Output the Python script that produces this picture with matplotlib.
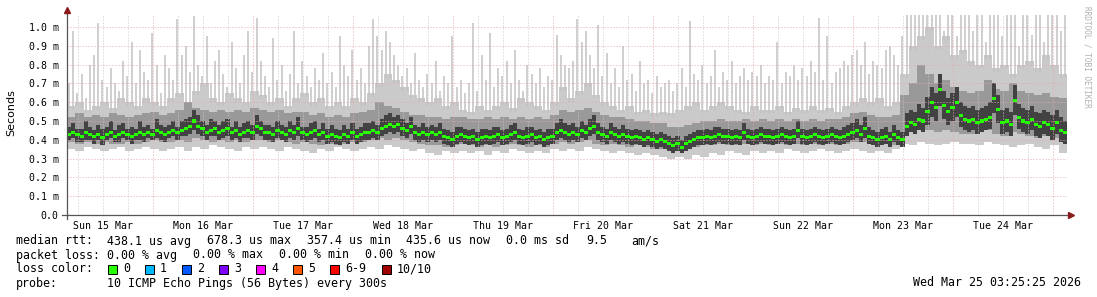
import numpy as np
import matplotlib
matplotlib.use("Agg")
import matplotlib.pyplot as plt

# ----- DATA (milliseconds) -----
# median rtt, one value per hour, starting Sun 15 Mar 03:25
med = [
    0.43, 0.44, 0.43, 0.42, 0.44, 0.43, 0.42, 0.43, 0.41, 0.43, 0.44, 0.42, 0.43, 0.44, 0.43, 0.42, 0.43, 0.44, 0.43, 0.44, 0.43, 0.45, 0.44, 0.43,
    0.44, 0.45, 0.44, 0.45, 0.46, 0.47, 0.50, 0.47, 0.46, 0.44, 0.45, 0.46, 0.44, 0.45, 0.46, 0.44, 0.45, 0.43, 0.44, 0.45, 0.44, 0.47, 0.46, 0.44,
    0.44, 0.43, 0.45, 0.44, 0.43, 0.45, 0.44, 0.46, 0.44, 0.43, 0.44, 0.45, 0.43, 0.44, 0.42, 0.43, 0.42, 0.41, 0.43, 0.42, 0.44, 0.42, 0.43, 0.44,
    0.44, 0.45, 0.44, 0.46, 0.47, 0.48, 0.47, 0.48, 0.46, 0.45, 0.47, 0.44, 0.43, 0.44, 0.43, 0.44, 0.43, 0.44, 0.42, 0.41, 0.40, 0.42, 0.43, 0.42,
    0.41, 0.42, 0.40, 0.41, 0.42, 0.41, 0.42, 0.43, 0.41, 0.42, 0.43, 0.44, 0.42, 0.41, 0.42, 0.43, 0.41, 0.42, 0.40, 0.41, 0.42, 0.44, 0.45, 0.44,
    0.43, 0.44, 0.43, 0.45, 0.44, 0.46, 0.47, 0.44, 0.43, 0.42, 0.44, 0.43, 0.42, 0.43, 0.42, 0.41, 0.42, 0.41, 0.40, 0.41, 0.40, 0.39, 0.40, 0.39,
    0.38, 0.37, 0.38, 0.36, 0.38, 0.39, 0.40, 0.41, 0.41, 0.42, 0.41, 0.42, 0.43, 0.42, 0.42, 0.41, 0.42, 0.41, 0.44, 0.42, 0.41, 0.42, 0.43, 0.42,
    0.42, 0.41, 0.42, 0.43, 0.42, 0.41, 0.42, 0.45, 0.42, 0.41, 0.42, 0.43, 0.42, 0.41, 0.42, 0.43, 0.42, 0.41, 0.42, 0.43, 0.44, 0.45, 0.43, 0.46,
    0.42, 0.41, 0.40, 0.41, 0.42, 0.40, 0.43, 0.41, 0.40, 0.47, 0.49, 0.48, 0.51, 0.50, 0.55, 0.60, 0.57, 0.67, 0.58, 0.55, 0.57, 0.60, 0.53, 0.51,
    0.50, 0.51, 0.49, 0.50, 0.51, 0.52, 0.62, 0.56, 0.49, 0.50, 0.48, 0.61, 0.52, 0.50, 0.49, 0.51, 0.48, 0.47, 0.49, 0.48, 0.46, 0.49, 0.45, 0.44,
]

# pings nearest the median (dark smoke), one value per hour
chi = [
    0.47, 0.49, 0.46, 0.46, 0.50, 0.47, 0.45, 0.48, 0.46, 0.47, 0.50, 0.45, 0.48, 0.49, 0.46, 0.47, 0.46, 0.50, 0.47, 0.48, 0.46, 0.51, 0.48, 0.47,
    0.48, 0.50, 0.47, 0.50, 0.51, 0.52, 0.56, 0.53, 0.50, 0.48, 0.51, 0.50, 0.48, 0.50, 0.51, 0.47, 0.50, 0.47, 0.49, 0.50, 0.48, 0.53, 0.50, 0.48,
    0.48, 0.47, 0.50, 0.48, 0.47, 0.50, 0.48, 0.52, 0.47, 0.47, 0.49, 0.50, 0.46, 0.49, 0.46, 0.48, 0.46, 0.45, 0.48, 0.46, 0.49, 0.46, 0.47, 0.49,
    0.49, 0.50, 0.48, 0.51, 0.53, 0.54, 0.52, 0.53, 0.51, 0.49, 0.52, 0.48, 0.47, 0.49, 0.47, 0.48, 0.47, 0.49, 0.46, 0.45, 0.44, 0.47, 0.47, 0.46,
    0.45, 0.46, 0.44, 0.46, 0.46, 0.45, 0.47, 0.47, 0.45, 0.46, 0.48, 0.49, 0.46, 0.45, 0.47, 0.47, 0.45, 0.46, 0.44, 0.46, 0.46, 0.49, 0.51, 0.49,
    0.48, 0.49, 0.47, 0.50, 0.48, 0.51, 0.53, 0.49, 0.47, 0.46, 0.49, 0.47, 0.46, 0.48, 0.46, 0.45, 0.46, 0.45, 0.44, 0.45, 0.44, 0.43, 0.44, 0.43,
    0.42, 0.41, 0.42, 0.40, 0.42, 0.43, 0.44, 0.45, 0.45, 0.46, 0.45, 0.47, 0.47, 0.46, 0.46, 0.45, 0.46, 0.45, 0.49, 0.46, 0.45, 0.46, 0.47, 0.46,
    0.46, 0.45, 0.46, 0.47, 0.46, 0.45, 0.46, 0.50, 0.46, 0.45, 0.46, 0.47, 0.46, 0.45, 0.46, 0.47, 0.46, 0.45, 0.47, 0.48, 0.49, 0.51, 0.48, 0.52,
    0.47, 0.45, 0.44, 0.46, 0.47, 0.44, 0.48, 0.45, 0.44, 0.54, 0.56, 0.55, 0.59, 0.57, 0.63, 0.68, 0.65, 0.75, 0.66, 0.62, 0.65, 0.68, 0.60, 0.58,
    0.57, 0.58, 0.56, 0.57, 0.58, 0.60, 0.70, 0.64, 0.56, 0.57, 0.55, 0.69, 0.59, 0.57, 0.56, 0.58, 0.55, 0.54, 0.56, 0.55, 0.53, 0.56, 0.52, 0.50,
]
clo = [
    0.40, 0.41, 0.39, 0.39, 0.40, 0.40, 0.38, 0.40, 0.37, 0.40, 0.41, 0.39, 0.39, 0.41, 0.40, 0.38, 0.40, 0.40, 0.39, 0.41, 0.40, 0.41, 0.40, 0.39,
    0.41, 0.42, 0.40, 0.42, 0.42, 0.43, 0.45, 0.43, 0.42, 0.40, 0.42, 0.42, 0.40, 0.41, 0.42, 0.40, 0.41, 0.39, 0.41, 0.41, 0.40, 0.43, 0.42, 0.40,
    0.40, 0.39, 0.41, 0.40, 0.39, 0.41, 0.40, 0.42, 0.40, 0.39, 0.40, 0.41, 0.39, 0.40, 0.38, 0.39, 0.38, 0.37, 0.39, 0.38, 0.40, 0.38, 0.39, 0.40,
    0.40, 0.41, 0.40, 0.42, 0.43, 0.44, 0.43, 0.44, 0.42, 0.41, 0.43, 0.40, 0.39, 0.40, 0.39, 0.40, 0.39, 0.40, 0.38, 0.37, 0.36, 0.38, 0.39, 0.38,
    0.37, 0.38, 0.36, 0.37, 0.38, 0.37, 0.38, 0.39, 0.37, 0.38, 0.39, 0.40, 0.38, 0.37, 0.38, 0.39, 0.37, 0.38, 0.36, 0.37, 0.38, 0.40, 0.41, 0.40,
    0.39, 0.40, 0.39, 0.41, 0.40, 0.42, 0.43, 0.40, 0.39, 0.38, 0.40, 0.39, 0.38, 0.39, 0.38, 0.37, 0.38, 0.37, 0.36, 0.37, 0.36, 0.35, 0.36, 0.35,
    0.34, 0.33, 0.34, 0.33, 0.34, 0.35, 0.36, 0.37, 0.37, 0.38, 0.37, 0.38, 0.39, 0.38, 0.38, 0.37, 0.38, 0.37, 0.40, 0.38, 0.37, 0.38, 0.39, 0.38,
    0.38, 0.37, 0.38, 0.39, 0.38, 0.37, 0.38, 0.41, 0.38, 0.37, 0.38, 0.39, 0.38, 0.37, 0.38, 0.39, 0.38, 0.37, 0.38, 0.39, 0.40, 0.41, 0.39, 0.41,
    0.38, 0.37, 0.36, 0.37, 0.38, 0.36, 0.39, 0.37, 0.36, 0.42, 0.44, 0.43, 0.45, 0.44, 0.48, 0.52, 0.50, 0.58, 0.51, 0.48, 0.50, 0.52, 0.47, 0.45,
    0.44, 0.45, 0.43, 0.44, 0.45, 0.46, 0.54, 0.49, 0.43, 0.44, 0.42, 0.53, 0.46, 0.44, 0.43, 0.45, 0.42, 0.41, 0.43, 0.42, 0.40, 0.43, 0.39, 0.38,
]

# max ping per hour (light grey spikes)
top = [
    0.70, 0.98, 0.65, 0.75, 0.62, 0.80, 0.85, 1.02, 0.72, 0.68, 0.78, 0.70, 0.66, 0.82, 0.74, 0.92, 0.70, 0.88, 0.76, 0.72, 0.97, 0.80, 0.65, 0.85,
    0.78, 0.72, 1.04, 0.85, 0.90, 0.76, 1.06, 0.80, 0.74, 0.95, 0.70, 0.82, 0.88, 0.75, 0.68, 0.92, 0.78, 0.70, 0.85, 0.98, 0.76, 1.05, 0.82, 0.74,
    0.68, 0.94, 0.72, 0.80, 0.66, 0.75, 0.98, 0.70, 0.82, 0.74, 0.68, 0.78, 0.72, 0.86, 0.70, 0.76, 0.68, 0.95, 0.80, 0.74, 0.88, 0.72, 0.78, 0.70,
    0.90, 1.04, 0.95, 0.88, 0.98, 0.92, 0.85, 0.80, 0.74, 0.78, 0.70, 0.86, 0.72, 0.68, 0.75, 0.70, 0.82, 0.66, 0.74, 0.70, 0.95, 0.68, 0.72, 0.65,
    0.70, 1.02, 0.66, 0.85, 0.72, 0.97, 0.68, 0.78, 0.74, 0.82, 0.70, 0.88, 0.72, 0.66, 0.80, 0.75, 0.70, 0.78, 0.68, 0.74, 0.72, 0.96, 0.85, 0.80,
    0.78, 0.82, 1.04, 0.92, 0.98, 0.85, 0.78, 1.01, 0.74, 0.86, 0.70, 0.78, 0.68, 0.90, 0.72, 0.75, 0.66, 0.82, 0.70, 0.72, 0.65, 0.74, 0.68, 0.70,
    0.72, 0.66, 0.70, 0.78, 0.68, 1.03, 0.75, 0.72, 0.80, 0.70, 0.74, 0.88, 0.68, 0.76, 0.72, 0.82, 0.70, 0.74, 0.78, 0.72, 0.76, 0.74, 0.80, 0.70,
    0.74, 0.72, 0.92, 0.70, 0.76, 0.74, 0.80, 0.72, 0.78, 0.74, 0.82, 0.76, 1.05, 0.72, 0.95, 0.70, 0.76, 0.78, 0.82, 0.80, 0.85, 0.88, 0.80, 0.92,
    0.75, 0.82, 0.80, 0.78, 0.88, 0.90, 0.85, 0.80, 0.95, 1.07, 1.07, 1.07, 1.07, 1.07, 1.07, 1.07, 1.07, 1.07, 0.98, 1.07, 1.07, 0.95, 1.07, 1.07,
    1.07, 0.98, 1.07, 1.07, 0.92, 1.07, 1.07, 1.07, 0.95, 1.07, 1.07, 1.07, 0.90, 1.07, 1.07, 0.96, 1.07, 1.07, 0.92, 1.07, 1.07, 1.07, 0.98, 1.07,
]

# outer smoke bands, one value per 2 hours
lo = [
    0.35, 0.34, 0.36, 0.35, 0.34, 0.35, 0.36, 0.34, 0.35, 0.36, 0.35, 0.34,
    0.35, 0.36, 0.34, 0.36, 0.35, 0.37, 0.36, 0.35, 0.34, 0.36, 0.35, 0.36,
    0.35, 0.34, 0.36, 0.35, 0.34, 0.33, 0.35, 0.34, 0.36, 0.35, 0.34, 0.35,
    0.36, 0.35, 0.37, 0.36, 0.35, 0.34, 0.35, 0.33, 0.32, 0.34, 0.33, 0.34,
    0.33, 0.34, 0.32, 0.34, 0.33, 0.35, 0.34, 0.33, 0.34, 0.33, 0.35, 0.34,
    0.35, 0.34, 0.36, 0.35, 0.34, 0.33, 0.34, 0.33, 0.32, 0.33, 0.32, 0.31,
    0.30, 0.31, 0.30, 0.32, 0.31, 0.33, 0.32, 0.34, 0.33, 0.32, 0.34, 0.33,
    0.34, 0.33, 0.35, 0.34, 0.33, 0.34, 0.35, 0.34, 0.33, 0.34, 0.35, 0.34,
    0.33, 0.34, 0.33, 0.35, 0.38, 0.37, 0.39, 0.38, 0.37, 0.38, 0.39, 0.38,
    0.38, 0.37, 0.39, 0.38, 0.37, 0.36, 0.37, 0.38, 0.36, 0.35, 0.37, 0.33,
]
mlo = [
    0.39, 0.38, 0.39, 0.38, 0.39, 0.38, 0.38, 0.39, 0.38, 0.39, 0.40, 0.39,
    0.39, 0.40, 0.39, 0.41, 0.40, 0.39, 0.40, 0.39, 0.40, 0.39, 0.40, 0.40,
    0.39, 0.40, 0.39, 0.38, 0.39, 0.38, 0.37, 0.38, 0.37, 0.38, 0.39, 0.39,
    0.40, 0.41, 0.40, 0.41, 0.40, 0.39, 0.38, 0.37, 0.37, 0.36, 0.37, 0.38,
    0.37, 0.36, 0.37, 0.36, 0.37, 0.38, 0.37, 0.36, 0.37, 0.36, 0.38, 0.39,
    0.38, 0.39, 0.40, 0.38, 0.37, 0.38, 0.37, 0.36, 0.37, 0.36, 0.35, 0.35,
    0.34, 0.34, 0.35, 0.36, 0.37, 0.37, 0.38, 0.37, 0.37, 0.38, 0.37, 0.38,
    0.37, 0.38, 0.37, 0.38, 0.37, 0.38, 0.37, 0.38, 0.37, 0.38, 0.39, 0.39,
    0.38, 0.37, 0.38, 0.37, 0.42, 0.44, 0.47, 0.45, 0.44, 0.45, 0.44, 0.43,
    0.43, 0.44, 0.45, 0.43, 0.42, 0.44, 0.43, 0.42, 0.41, 0.42, 0.41, 0.40,
]
mhi = [
    0.52, 0.54, 0.52, 0.53, 0.52, 0.54, 0.53, 0.52, 0.53, 0.54, 0.55, 0.53,
    0.54, 0.56, 0.60, 0.57, 0.56, 0.55, 0.56, 0.55, 0.56, 0.55, 0.57, 0.56,
    0.55, 0.56, 0.54, 0.55, 0.55, 0.53, 0.54, 0.52, 0.53, 0.52, 0.54, 0.55,
    0.56, 0.60, 0.58, 0.57, 0.55, 0.53, 0.53, 0.52, 0.52, 0.51, 0.52, 0.52,
    0.51, 0.51, 0.52, 0.51, 0.52, 0.51, 0.52, 0.51, 0.52, 0.51, 0.53, 0.56,
    0.55, 0.56, 0.57, 0.55, 0.53, 0.52, 0.52, 0.51, 0.50, 0.50, 0.49, 0.49,
    0.47, 0.47, 0.48, 0.49, 0.50, 0.50, 0.51, 0.50, 0.50, 0.51, 0.50, 0.51,
    0.50, 0.51, 0.50, 0.51, 0.50, 0.51, 0.50, 0.51, 0.51, 0.52, 0.54, 0.55,
    0.53, 0.52, 0.52, 0.53, 0.64, 0.70, 0.80, 0.75, 0.70, 0.72, 0.68, 0.66,
    0.65, 0.66, 0.72, 0.67, 0.66, 0.70, 0.66, 0.65, 0.64, 0.65, 0.63, 0.62,
]
hi = [
    0.58, 0.60, 0.56, 0.58, 0.60, 0.57, 0.62, 0.60, 0.58, 0.62, 0.60, 0.58,
    0.62, 0.65, 0.60, 0.66, 0.70, 0.62, 0.60, 0.65, 0.62, 0.60, 0.66, 0.64,
    0.60, 0.62, 0.58, 0.62, 0.65, 0.60, 0.62, 0.58, 0.60, 0.58, 0.62, 0.60,
    0.65, 0.70, 0.75, 0.72, 0.68, 0.64, 0.62, 0.60, 0.62, 0.58, 0.60, 0.56,
    0.55, 0.58, 0.56, 0.58, 0.60, 0.57, 0.62, 0.60, 0.58, 0.56, 0.60, 0.68,
    0.62, 0.66, 0.70, 0.64, 0.60, 0.58, 0.56, 0.58, 0.55, 0.56, 0.54, 0.55,
    0.54, 0.56, 0.58, 0.60, 0.56, 0.58, 0.60, 0.58, 0.56, 0.55, 0.58, 0.56,
    0.56, 0.58, 0.55, 0.57, 0.56, 0.58, 0.56, 0.57, 0.55, 0.58, 0.60, 0.62,
    0.60, 0.62, 0.58, 0.60, 0.75, 0.90, 0.95, 1.00, 0.90, 0.95, 0.85, 0.88,
    0.82, 0.80, 0.85, 0.78, 0.80, 0.75, 0.80, 0.82, 0.78, 0.85, 0.80, 0.75,
]

day_labels = ["Sun 15 Mar", "Mon 16 Mar", "Tue 17 Mar", "Wed 18 Mar", "Thu 19 Mar",
              "Fri 20 Mar", "Sat 21 Mar", "Sun 22 Mar", "Mon 23 Mar", "Tue 24 Mar"]
y_ticks = [0.0, 0.1, 0.2, 0.3, 0.4, 0.5, 0.6, 0.7, 0.8, 0.9, 1.0]

loss_labels = ["0", "1", "2", "3", "4", "5", "6-9", "10/10"]
loss_colors = ["#26ff00", "#00b8ff", "#0059ff", "#7e00ff", "#ff00ff", "#ff5500", "#ff0000", "#a10000"]

# ----- FIGURE -----
W, H = 1097, 297
fig = plt.figure(figsize=(W / 100, H / 100), dpi=100)
fig.patch.set_facecolor("white")

# plot area in pixels: x 67..1067, y 15..215
ax = fig.add_axes([67 / W, 1 - 215 / H, 1000 / W, 200 / H])
ax.set_facecolor("white")

t0 = 3 + 25 / 60  # Sun 15 Mar 03:25, hours since Sun 00:00
t_end = t0 + 240
ax.set_xlim(t0, t_end)
ax.set_ylim(0, 200 / 188)

# grid
dot = (0, (1, 2))
for h in range(6, 246, 6):
    if t0 < h < t_end:
        col = "#e8a8a8" if h % 24 == 0 else "#c8c8c8"
        ax.axvline(h, color=col, lw=0.72, ls=dot, zorder=5)
for v in y_ticks[1:]:
    ax.axhline(v, color="#e8a8a8", lw=0.72, ls=dot, zorder=5)

# smoke
e1 = t0 + np.arange(len(med) + 1)
e2 = t0 + 2 * np.arange(len(lo) + 1)
med_a = np.array(med)
hi_a = np.array(hi)
ax.stairs(hi_a, e2, baseline=np.array(lo), fill=True, color="#cacaca", lw=0, zorder=1)
centers = t0 + np.arange(len(top)) + 0.5
ax.vlines(centers, hi_a[np.arange(len(top)) // 2] - 0.02, top, colors="#c2c2c2", lw=1.1, zorder=1)
ax.stairs(np.array(mhi), e2, baseline=np.array(mlo), fill=True, color="#999999", lw=0, zorder=2)
ax.stairs(np.array(chi), e1, baseline=np.array(clo), fill=True, color="#424242", lw=0, zorder=3)

# median, drawn as short bars like smokeping does
ax.stairs(med_a + 0.008, e1, baseline=med_a - 0.008, fill=True, color="#26ff00", lw=0, zorder=6)

# axes styling
for s in ax.spines.values():
    s.set_visible(False)
ax.tick_params(axis="both", length=0, pad=4)
ax.set_xticks([12 + 24 * k for k in range(10)])
ax.set_xticklabels(day_labels, family="DejaVu Sans Mono", fontsize=7.1)
ax.set_yticks(y_ticks)
ax.set_yticklabels(["0.0"] + ["%.1f m" % v for v in y_ticks[1:]], family="DejaVu Sans Mono", fontsize=7.1)
ax.tick_params(axis="y", pad=6)

# axis lines with arrows
fig.add_artist(plt.Line2D([67 / W, 67 / W], [1 - 219 / H, 1 - 12 / H], color="#555555", lw=0.9))
fig.add_artist(plt.Line2D([62 / W, 1070 / W], [1 - 215 / H, 1 - 215 / H], color="#555555", lw=0.9))
fig.add_artist(plt.Line2D([67 / W], [1 - 10 / H], marker="^", color="#8b1a1a", ms=4, lw=0))
fig.add_artist(plt.Line2D([1071 / W], [1 - 215 / H], marker=">", color="#8b1a1a", ms=4, lw=0))

mono = "DejaVu Sans Mono"
fig.text(11 / W, 1 - 113 / H, "Seconds", rotation=90, ha="center", va="center", family="DejaVu Sans", fontsize=8)
fig.text(1087 / W, 1 - 6 / H, "RRDTOOL / TOBI OETIKER", rotation=270, ha="center", va="top",
         family=mono, fontsize=5.6, color="#b0b0b0")


def txt(x, y, s, **kw):
    fig.text(x / W, 1 - y / H, s, ha=kw.pop("ha", "left"), va="center", family=mono, fontsize=8.4, **kw)


# legend rows
txt(16, 241, "median rtt:")
for x, s in [(107, "438.1 us avg"), (207, "678.3 us max"), (307, "357.4 us min"),
             (406, "435.6 us now"), (506, "0.0 ms sd"), (586, "9.5"), (631, "am/s")]:
    txt(x, 241, s)
txt(16, 255, "packet loss:")
for x, s in [(107, "0.00 % avg"), (193, "0.00 % max"), (279, "0.00 % min"), (365, "0.00 % now")]:
    txt(x, 255, s)
txt(16, 269, "loss color:")
box_x = [108, 145, 182, 219, 256, 293, 330, 382]
for bx, lab, col in zip(box_x, loss_labels, loss_colors):
    fig.patches.append(plt.Rectangle((bx / W, 1 - 273.5 / H), 9 / W, 9 / H, transform=fig.transFigure,
                                     facecolor=col, edgecolor="black", lw=0.7))
    txt(bx + 15, 269, lab)
txt(16, 283, "probe:")
txt(107, 283, "10 ICMP Echo Pings (56 Bytes) every 300s")
txt(1081, 283, "Wed Mar 25 03:25:25 2026", ha="right")

fig.savefig("out.png", dpi=100, facecolor="white")
